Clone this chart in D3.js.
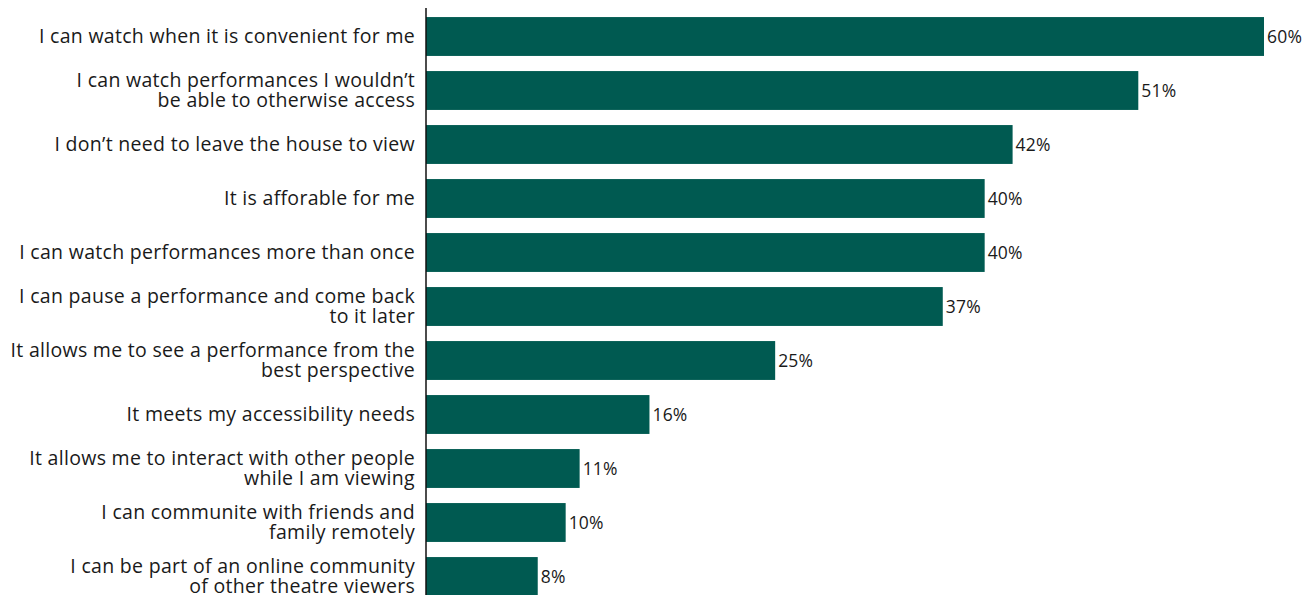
<!DOCTYPE html>
<html>
<head>
<meta charset="utf-8">
<script src="https://cdn.jsdelivr.net/npm/d3@7"></script>
<style>
  html, body { margin: 0; padding: 0; background: #fff; }
  svg { display: block; }
  text { font-family: "Open Sans", "Noto Sans", sans-serif; fill: #1a1a1a; }
</style>
</head>
<body>
<svg id="chart" width="1316" height="595"></svg>
<script>
// Reasons for watching theatre online (share of respondents, %)
const categories = [
  ["I can watch when it is convenient for me"],
  ["I can watch performances I wouldn\u2019t", "be able to otherwise access"],
  ["I don\u2019t need to leave the house to view"],
  ["It is afforable for me"],
  ["I can watch performances more than once"],
  ["I can pause a performance and come back", "to it later"],
  ["It allows me to see a performance from the", "best perspective"],
  ["It meets my accessibility needs"],
  ["It allows me to interact with other people", "while I am viewing"],
  ["I can communite with friends and", "family remotely"],
  ["I can be part of an online community", "of other theatre viewers"]
];
const values = [60, 51, 42, 40, 40, 37, 25, 16, 11, 10, 8];

const svg = d3.select("#chart");
const marginLeft = 426, marginTop = 9.5, plotBottom = 595;

const x = d3.scaleLinear().domain([0, 60]).range([marginLeft, 1264]);
const y = d3.scaleBand()
  .domain(d3.range(values.length))
  .range([marginTop, marginTop + 54 * values.length])
  .paddingInner(0.28)
  .paddingOuter(0.14);

// bars
svg.append("g").selectAll("rect")
  .data(values)
  .join("rect")
  .attr("x", x(0))
  .attr("y", (d, i) => y(i))
  .attr("width", d => x(d) - x(0))
  .attr("height", y.bandwidth())
  .attr("fill", "#005a51");

// value labels
svg.append("g").selectAll("text")
  .data(values)
  .join("text")
  .attr("x", d => x(d) + 3)
  .attr("y", (d, i) => y(i) + y.bandwidth() / 2)
  .attr("dy", "0.35em")
  .attr("font-size", 17.5)
  .attr("letter-spacing", 0.2)
  .text(d => d + "%");

// category labels, right aligned, possibly on two lines
const fs = 19.5, lineH = 20;
const lab = svg.append("g").selectAll("text")
  .data(categories)
  .join("text")
  .attr("text-anchor", "end")
  .attr("font-size", fs)
  .attr("letter-spacing", 0.3)
  .attr("y", (d, i) => y(i) + y.bandwidth() / 2);
lab.selectAll("tspan")
  .data(d => d.map((t, j) => ({ t, j, n: d.length })))
  .join("tspan")
  .attr("x", 415)
  .attr("dy", d => d.j === 0 ? (-(d.n - 1) / 2 * lineH + 0.35 * fs) : lineH)
  .text(d => d.t);

// vertical axis line
svg.append("line")
  .attr("x1", marginLeft).attr("x2", marginLeft)
  .attr("y1", 8).attr("y2", plotBottom)
  .attr("stroke", "#111")
  .attr("stroke-width", 1.5);
</script>
</body>
</html>
